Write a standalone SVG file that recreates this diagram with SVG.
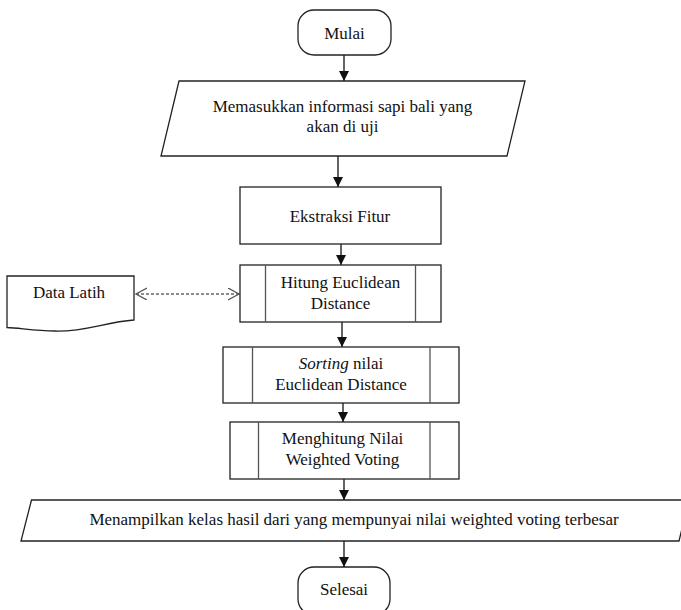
<svg xmlns="http://www.w3.org/2000/svg" width="681" height="610" viewBox="0 0 681 610">
<defs>
<style>
.s{fill:#fff;stroke:#222;stroke-width:1.3}
.in{fill:none;stroke:#555;stroke-width:1.3}
.t{font-family:"Liberation Serif","Times New Roman",serif;font-size:17px;fill:#111;text-anchor:middle}
.c{fill:none;stroke:#111;stroke-width:1.3}
.d{fill:none;stroke:#666;stroke-width:1.3;stroke-dasharray:3 2}
</style>
<marker id="ah" markerWidth="12" markerHeight="12" refX="10" refY="5" orient="auto" markerUnits="userSpaceOnUse">
<path d="M0,0 L10,5 L0,10 Z" fill="#111"/>
</marker>
<marker id="oh" markerWidth="14" markerHeight="14" refX="11" refY="6" orient="auto-start-reverse" markerUnits="userSpaceOnUse">
<path d="M0,0 L11,6 L0,12" fill="none" stroke="#555" stroke-width="1.3"/>
</marker>
</defs>
<rect width="681" height="610" fill="#fff"/>
<g id="connectors">
<line class="c" x1="344" y1="55" x2="344" y2="81" marker-end="url(#ah)"/>
<line class="c" x1="338" y1="156" x2="338" y2="187" marker-end="url(#ah)"/>
<line class="c" x1="341" y1="244" x2="341" y2="265" marker-end="url(#ah)"/>
<line class="c" x1="342" y1="322" x2="342" y2="347" marker-end="url(#ah)"/>
<line class="c" x1="343" y1="403" x2="343" y2="422" marker-end="url(#ah)"/>
<line class="c" x1="344" y1="479" x2="344" y2="500" marker-end="url(#ah)"/>
<line class="c" x1="344" y1="541" x2="344" y2="567" marker-end="url(#ah)"/>
<line class="d" x1="136" y1="294" x2="239" y2="294" marker-start="url(#oh)" marker-end="url(#oh)"/>
</g>
<g id="mulai">
<rect class="s" x="298" y="10" width="93" height="45" rx="16" ry="16"/>
<text class="t" x="344.5" y="39">Mulai</text>
</g>
<g id="input">
<polygon class="s" points="179,81 525,81 507,156 161,156"/>
<text class="t" x="342.5" y="112">Memasukkan informasi sapi bali yang</text>
<text class="t" x="342.5" y="132">akan di uji</text>
</g>
<g id="ekstraksi">
<rect class="s" x="240" y="187" width="201" height="57"/>
<text class="t" x="340" y="222">Ekstraksi Fitur</text>
</g>
<g id="hitung">
<rect class="s" x="240" y="265" width="201" height="57"/>
<line class="in" x1="265.5" y1="265" x2="265.5" y2="322"/>
<line class="in" x1="415.5" y1="265" x2="415.5" y2="322"/>
<text class="t" x="340.5" y="288">Hitung Euclidean</text>
<text class="t" x="340.5" y="309">Distance</text>
</g>
<g id="datalatih">
<path class="s" d="M7,276 L134,276 L134,320 C105,322 85,332 55,331 C35,331 20,328 7,327.5 Z"/>
<text class="t" x="69" y="297.5">Data Latih</text>
</g>
<g id="sorting">
<rect class="s" x="223" y="347" width="236" height="56"/>
<line class="in" x1="252.5" y1="347" x2="252.5" y2="403"/>
<line class="in" x1="430" y1="347" x2="430" y2="403"/>
<text class="t" x="341" y="369"><tspan font-style="italic">Sorting</tspan> nilai</text>
<text class="t" x="341" y="390">Euclidean Distance</text>
</g>
<g id="weighted">
<rect class="s" x="230" y="422" width="229" height="57"/>
<line class="in" x1="258.5" y1="422" x2="258.5" y2="479"/>
<line class="in" x1="430" y1="422" x2="430" y2="479"/>
<text class="t" x="342.5" y="444">Menghitung Nilai</text>
<text class="t" x="342.5" y="465">Weighted Voting</text>
</g>
<g id="output">
<polygon class="s" points="31.5,500 689,500 679,541 21,541"/>
<text class="t" x="354" y="525">Menampilkan kelas hasil dari yang mempunyai nilai weighted voting terbesar</text>
</g>
<g id="selesai">
<rect class="s" x="298" y="567" width="92" height="48" rx="16" ry="16"/>
<text class="t" x="344" y="595">Selesai</text>
</g>
</svg>
